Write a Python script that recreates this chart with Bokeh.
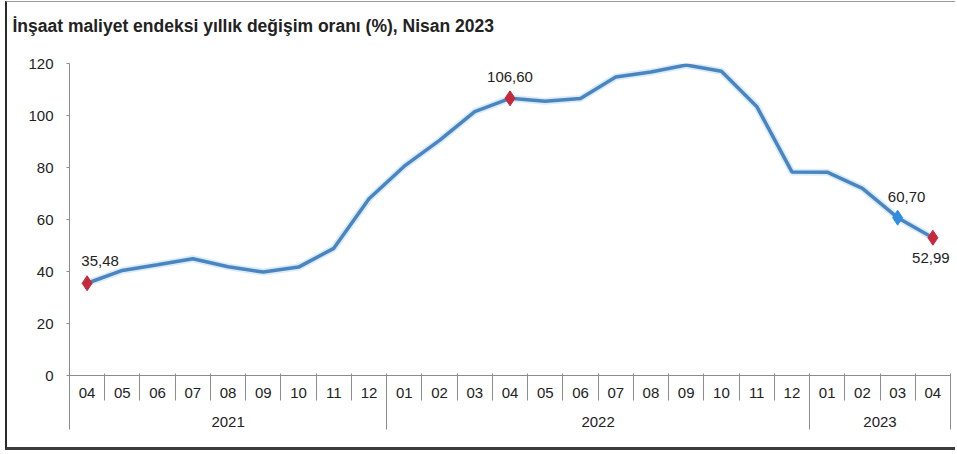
from bokeh.plotting import figure
from bokeh.models import Range1d, LinearAxis, FixedTicker, ColumnDataSource, LabelSet, Title
from bokeh.core.properties import value
from bokeh.embed import file_html
from bokeh.resources import INLINE

# ---- data ----
title_text = "İnşaat maliyet endeksi yıllık değişim oranı (%), Nisan 2023"
months = ["04", "05", "06", "07", "08", "09", "10", "11", "12",
          "01", "02", "03", "04", "05", "06", "07", "08", "09", "10", "11", "12",
          "01", "02", "03", "04"]
years = ["2021", "2022", "2023"]
year_counts = [9, 12, 4]
values = [35.48, 40.4, 42.6, 44.9, 41.8, 39.8, 41.7, 48.9, 68.0,
          80.5, 90.4, 101.5, 106.60, 105.5, 106.5, 114.8, 116.7, 119.4, 117.0, 103.5, 78.3,
          78.2, 72.0, 60.70, 52.99]
y_ticks = [0, 20, 40, 60, 80, 100, 120]
highlight_idx = [0, 12, 23, 24]

# ---- styles ----
highlight_colors = ["#c42a3c", "#c42a3c", "#2f8ce0", "#c42a3c"]
label_dx = [13, 0, 9, -2]
label_dy = [22, 21, 21, -20]
FONT = "Liberation Sans"
GRAY = "#8c8c8c"
TXT = "#222222"

xs = [i + 0.5 for i in range(len(months))]
bounds = [0]
for c in year_counts:
    bounds.append(bounds[-1] + c)
year_centers = [(bounds[i] + bounds[i + 1]) / 2 for i in range(len(years))]

p = figure(width=950, height=449, x_range=Range1d(0, len(months)), y_range=Range1d(0, 120),
           output_backend="svg", toolbar_location=None,
           min_border_left=62, min_border_right=7, min_border_top=61, min_border_bottom=76)
p.outline_line_color = None
p.xgrid.visible = False
p.ygrid.visible = False
p.styles = {"margin-left": "5px", "margin-top": "1px",
            "border-left": "2px solid #2b2b2b", "border-top": "1px solid #9a9a9a",
            "border-bottom": "3px solid #3c3c3c"}

# title: a thin spacer next to the frame, then the title text above it
p.title.text = ""
p.add_layout(Title(text=" ", text_font_size="1px", standoff=20), "above")
p.add_layout(Title(text=title_text, text_font=FONT, text_font_size="17.5px",
                   text_font_style="bold", text_color=TXT, align="left",
                   offset=-57, standoff=10), "above")


def style_axis(ax):
    ax.major_label_text_font = FONT
    ax.major_label_text_font_size = "15px"
    ax.major_label_text_color = TXT
    ax.major_tick_line_color = GRAY
    ax.minor_tick_line_color = GRAY
    ax.axis_line_color = GRAY


# y axis
ya = p.yaxis[0]
style_axis(ya)
ya.ticker = FixedTicker(ticks=y_ticks, minor_ticks=[])
ya.major_tick_out = 3
ya.major_tick_in = 0
ya.minor_tick_out = 0
ya.minor_tick_in = 0
ya.major_label_standoff = 13

# month axis: labels only
xa = p.xaxis[0]
style_axis(xa)
xa.ticker = FixedTicker(ticks=xs, minor_ticks=[])
xa.major_label_overrides = {x: m for x, m in zip(xs, months)}
xa.major_tick_out = 0
xa.major_tick_in = 0
xa.minor_tick_out = 0
xa.minor_tick_in = 0
xa.major_label_standoff = 12

# year axis: year labels, month separators drawn upward as minor ticks
yr = LinearAxis(ticker=FixedTicker(ticks=year_centers, minor_ticks=list(range(len(months) + 1))))
style_axis(yr)
yr.major_label_overrides = {c: y for c, y in zip(year_centers, years)}
yr.axis_line_color = None
yr.major_tick_out = 0
yr.major_tick_in = 0
yr.minor_tick_in = 27
yr.minor_tick_out = 0
yr.major_label_standoff = 16
p.add_layout(yr, "below")

# year separators through the year row
sep = LinearAxis(ticker=FixedTicker(ticks=bounds, minor_ticks=[]))
style_axis(sep)
sep.major_label_overrides = {b: "" for b in bounds}
sep.major_label_text_font_size = "0px"
sep.major_label_standoff = 0
sep.axis_line_color = None
sep.major_tick_in = 31
sep.major_tick_out = 0
p.add_layout(sep, "below")

# line
p.line(xs, values, line_color="#bfe0f5", line_width=7, line_alpha=0.6)
p.line(xs, values, line_color="#4a85c0", line_width=3.5)

# highlighted points
hx = [xs[i] for i in highlight_idx]
hy = [values[i] for i in highlight_idx]
htxt = [f"{values[i]:.2f}".replace(".", ",") for i in highlight_idx]
src = ColumnDataSource(dict(x=hx, y=hy, text=htxt, color=highlight_colors, dx=label_dx, dy=label_dy))
p.scatter("x", "y", source=src, marker="diamond", size=15, fill_color="color", line_color="color")
labels = LabelSet(x="x", y="y", text="text", source=src, x_offset="dx", y_offset="dy",
                  text_align="center", text_baseline="middle", text_font=value(FONT),
                  text_font_size="15px", text_color=TXT)
p.add_layout(labels)

open("out.html", "w").write(file_html(p, INLINE))
